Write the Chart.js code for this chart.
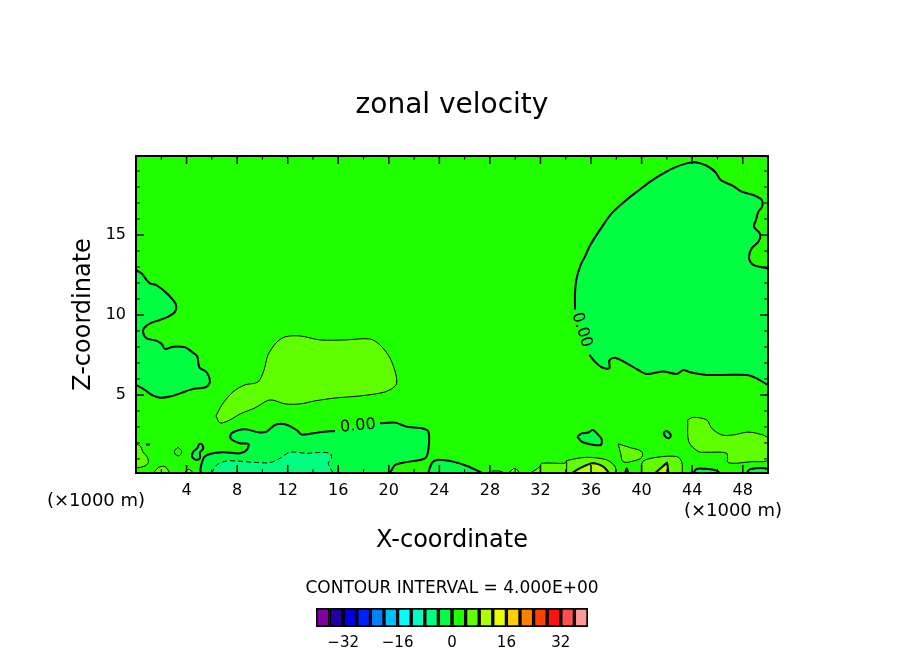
<!DOCTYPE html>
<html><head><meta charset="utf-8">
<script src="https://cdn.jsdelivr.net/npm/chart.js@4"></script>
<style>html,body{margin:0;padding:0;background:#fff;width:904px;height:654px;overflow:hidden}
#wrap{position:absolute;left:0;top:0;width:904px;height:654px}
#leg{position:absolute;left:0;top:570px;width:904px;height:84px}
canvas{display:block}</style></head>
<body>
<div id="wrap"><canvas id="main" width="904" height="654"></canvas></div>
<div id="leg"><canvas id="bar" width="904" height="84"></canvas></div>
<script>
// ---- axes ----
const xTicks=[4,8,12,16,20,24,28,32,36,40,44,48];
const xMinor=[2,6,10,14,18,22,26,30,34,38,42,46];
const zTicks=[5,10,15];
const zMinor=[1,2,3,4,6,7,8,9,11,12,13,14,16,17,18,19];
const xRange=[0,50];
const zRange=[0.12,19.94];
// ---- contours: [x (×1000 m), z (×1000 m)] ----
const westLobe=[[0,12.8],[.45,12.6],[.79,12.23],[1.11,11.98],[1.64,11.85],[2.29,11.46],[2.82,11.04],[3.16,10.63],[3.09,10.21],[2.56,9.9],[1.9,9.69],[1.11,9.48],[.63,9.17],[.58,8.85],[.84,8.54],[1.64,8.38],[2.03,8.19],[2.29,7.88],[2.95,8.02],[3.88,7.98],[4.4,7.71],[4.85,7.4],[5.01,6.73],[5.59,6.42],[5.85,5.83],[5.51,5.48],[4.54,5.38],[3.48,5.1],[2.69,4.9],[1.9,4.83],[1.24,5],[.71,5.31],[0,5.63]];
const eastLobe=[[34.73,10.35],[34.73,11.35],[34.86,12.29],[35.18,13.13],[35.52,13.65],[35.87,14.27],[36.31,14.85],[36.84,15.48],[37.63,16.35],[38.95,17.29],[39.87,17.85],[40.8,18.4],[41.72,18.85],[42.64,19.23],[43.57,19.48],[44.36,19.54],[45.15,19.33],[45.81,18.96],[46.26,18.44],[47.26,18.06],[47.92,17.71],[48.84,17.5],[49.5,17.19],[49.53,16.77],[49.24,16.46],[49.05,15.94],[48.89,15.52],[49.37,15.06],[49.24,14.58],[48.71,14.17],[48.5,13.54],[48.84,13.13],[50,12.92],[50.3,12.92],[50.3,5.63],[50,5.63],[49.1,6.04],[48.31,6.25],[46.47,6.25],[45.15,6.25],[43.83,6.42],[43.3,6.56],[42.77,6.31],[41.72,6.46],[40.4,6.31],[39.74,6.56],[38.82,6.98],[37.9,7.33],[37.45,7.15],[37.45,6.67],[36.84,6.73],[36.31,7.08],[35.87,7.5]];
const centralHigh=[[6.33,3.69],[6.8,4.38],[7.67,5.19],[8.62,5.63],[9.65,5.81],[10.13,6.56],[10.44,7.5],[11.08,8.25],[11.79,8.63],[12.97,8.69],[14.56,8.44],[16.53,8.44],[18.51,8.5],[19.3,8.13],[20.09,7.31],[20.57,6.25],[20.57,5.63],[19.7,5.19],[17.72,4.94],[15.74,4.81],[14.16,4.63],[12.97,4.44],[11.79,4.44],[10.6,4.69],[9.41,4.19],[8.23,3.81],[7.44,3.44],[6.65,3.25],[6.33,3.69]];
const lowerJet=[[19.3,3.23],[20.49,3.27],[21.41,3.02],[22.6,2.92],[23.13,2.71],[23.13,1.56],[22.86,1.04],[21.15,.77],[20.49,.62],[19.96,.1],[5.25,.1],[5.33,1.04],[5.85,1.31],[6.91,1.42],[8.23,1.35],[8.76,1.56],[8.89,1.94],[8.23,1.98],[7.49,2.29],[7.57,2.61],[8.62,2.85],[9.68,2.67],[10.34,2.71],[11,3.12],[11.79,3.17],[12.71,2.81],[13.11,2.52],[14.56,2.67],[15.74,2.75]];
const jetCore=[[5.99,.1],[6.38,.62],[7.18,.87],[7.97,.87],[9.28,.79],[10.6,.77],[11.39,1.04],[12.18,1.42],[13.5,1.35],[14.56,1.4],[15.35,1.35],[15.48,1.04],[15.21,.73],[15.61,.1]];
const peanut=[[5.2,1.94],[5.33,1.67],[5.06,1.4],[5.06,1.04],[4.75,.94],[4.43,1.15],[4.54,1.46],[4.85,1.67],[5.01,1.94],[5.2,1.94]];
const smallRing=[[3.32,1.73],[3.61,1.46],[3.35,1.19],[3.03,1.46],[3.32,1.73]];
const westEdgeHigh=[[0,1.98],[.37,1.77],[.53,1.46],[.9,1.1],[.97,.77],[.71,.56],[0,.42]];
const westDash=[[.79,1.9],[1.11,1.9]];
const bumpA=[[1.37,.1],[1.76,.46],[2.29,.52],[2.69,.1]];
const bumpB=[[3.8,.1],[4.14,.36],[4.59,.1]];
const lowerEast=[[23.1,.1],[23.42,.75],[23.81,.94],[25.08,.83],[26.19,.56],[27.45,.1]];
const islandA=[[34.92,2.4],[35.26,2.6],[35.78,2.65],[36.13,2.81],[36.58,2.5],[36.84,2.23],[36.76,1.87],[35.92,1.92],[35.26,2.08],[34.92,2.4]];
const islandB=[[41.99,2.77],[42.3,2.5],[42.12,2.29],[41.75,2.6],[41.99,2.77]];
const patchA=[[38.15,1.94],[39.08,1.71],[40,1.46],[40,1.1],[39.34,.87],[38.55,.83],[38.34,1.35],[38.15,1.94]];
const patchEast=[[43.65,3.44],[44.09,3.6],[45.15,3.44],[45.54,2.92],[46.34,2.5],[47.26,2.5],[48.31,2.67],[49.11,2.6],[50,2.29],[50,.94],[48.71,.83],[46.86,.77],[46.73,1.35],[45.15,1.42],[44.49,1.46],[43.73,2.08],[43.65,3.44]];
const floorHigh=[[31.17,.1],[31.96,.52],[32.09,.73],[33.94,.73],[34.07,.89],[35.66,1.1],[37.24,.94],[37.9,.52],[37.95,.1]];
const floorCore=[[34.47,.1],[35.13,.42],[36.13,.73],[36.97,.52],[37.45,.1]];
const floorStep=[[34.07,.89],[34.07,.1]];
const bumpC=[[29.45,.1],[29.98,.42],[30.38,.1]];
const shelf=[[28.14,.24],[28.8,.24],[29.19,.1]];
const floorWest=[[40,.1],[40.09,.83],[41.2,1.1],[42.77,1.15],[43.17,.83],[43.22,.1]];
const wedge=[[41.06,.1],[42.03,.77],[42.12,.1]];
const speck=[[38.69,.1],[38.82,.4],[38.95,.1]];
const floorLowA=[[44.09,.1],[44.36,.38],[45.02,.38],[45.94,.27],[46.2,.1]];
const floorLowB=[[48.31,.1],[48.58,.36],[50,.39],[50,.1]];
// ---- labels ----
const contourLabelText=["0.00","0.00"];
const contourLabelX=[17.56,35.26];
const contourLabelZ=[3.06,9.06];
const titleText="zonal velocity";
const xTitle="X-coordinate";
const zTitle="Z-coordinate";
const unitText="(×1000 m)";
const intervalText="CONTOUR INTERVAL = 4.000E+00";
// ---- colour bar ----
const barLevels=[-38,-34,-30,-26,-22,-18,-14,-10,-6,-2,2,6,10,14,18,22,26,30,34,38];
const barColors=["#8000a0","#2000a0","#0000e0","#0020ff","#0080ff","#00c0ff","#00ffff","#00ffc0","#00ff80","#00ff40","#20ff00","#60ff00","#b0ff00","#e8ff00","#ffd000","#ff8000","#ff4000","#ff1010","#ff5050","#ff9999"];
const barTicks=[-32,-16,0,16,32];

const C0="#20ff00",CN="#00ff40",CNN="#00ff80",CP="#60ff00",CPP="#b0ff00";
const F="'DejaVu Sans'";
function ds(data,fill,w,dash,tension){return {data:data.map(p=>({x:p[0],y:p[1]})),showLine:true,pointRadius:0,pointHoverRadius:0,tension:tension||.3,
  backgroundColor:fill||"transparent",fill:fill?"shape":false,borderColor:"#000",borderWidth:w,borderDash:dash||[],borderCapStyle:"butt",borderJoinStyle:"round"};}
const datasets=[
 ds(westLobe,CN,2),ds(eastLobe,CN,2),ds(centralHigh,CP,1),ds(lowerJet,CN,2),ds(jetCore,CNN,1,[5,3]),
 ds(peanut,CN,2),ds(smallRing,C0,1,null,.5),ds(westEdgeHigh,CP,1),ds(westDash,null,2),ds(bumpA,CP,1),ds(bumpB,CP,1),
 ds(lowerEast,CN,2),ds(islandA,CN,2),ds(islandB,CN,2,null,.5),ds(patchA,CP,1,null,.4),ds(patchEast,CP,1),
 ds(floorHigh,CP,1),ds(floorCore,CPP,2),ds(floorStep,null,1),ds(bumpC,CP,1),ds(shelf,null,1),
 ds(floorWest,CP,1),ds(wedge,CPP,2,null,.01),ds(speck,CN,2),ds(floorLowA,CN,2),ds(floorLowB,CN,2)
].map((d,i)=>Object.assign(d,{order:-i}));

const framePlugin={id:"frame",
 beforeDatasetsDraw(c){const a=c.chartArea,g=c.ctx;g.save();g.fillStyle=C0;g.fillRect(a.left,a.top,a.width,a.height);g.restore();},
 afterDatasetsDraw(c){const a=c.chartArea,g=c.ctx,X=c.scales.x,Y=c.scales.y;g.save();g.strokeStyle="#000";
  const tx=(v,l,w)=>{const p=X.getPixelForValue(v);g.lineWidth=w;g.beginPath();g.moveTo(p,a.top);g.lineTo(p,a.top+l);g.moveTo(p,a.bottom);g.lineTo(p,a.bottom-l);g.stroke();};
  const ty=(v,l,w)=>{const p=Y.getPixelForValue(v);g.lineWidth=w;g.beginPath();g.moveTo(a.left,p);g.lineTo(a.left+l,p);g.moveTo(a.right,p);g.lineTo(a.right-l,p);g.stroke();};
  xMinor.forEach(v=>tx(v,4,1));xTicks.forEach(v=>tx(v,8,1.5));zMinor.forEach(v=>ty(v,4,1));zTicks.forEach(v=>ty(v,8,1.5));
  g.lineWidth=2;g.strokeRect(a.left,a.top,a.width,a.height);
  g.fillStyle="#000";g.textAlign="center";g.textBaseline="middle";
  g.font="16px "+F;
  const ang=[-5,72];
  contourLabelText.forEach((t,i)=>{g.save();g.translate(X.getPixelForValue(contourLabelX[i]),Y.getPixelForValue(contourLabelZ[i]));g.rotate(ang[i]*Math.PI/180);g.fillText(t,0,0);g.restore();});
  g.font="18px "+F;
  g.fillText(unitText,96,501);g.fillText(unitText,733,511);
  g.restore();}
};
new Chart(document.getElementById("main"),{type:"scatter",data:{datasets},plugins:[framePlugin],
 options:{responsive:false,animation:false,events:[],layout:{padding:0},
  plugins:{legend:{display:false},tooltip:{enabled:false},
   title:{display:true,text:titleText,color:"#000",font:{family:F,size:28,weight:"normal",lineHeight:1.2},padding:{top:89.2,bottom:33.2}}},
  scales:{
   x:{type:"linear",min:xRange[0],max:xRange[1],grid:{display:false,drawTicks:false},border:{display:false},
    afterBuildTicks:s=>{s.ticks=xTicks.map(v=>({value:v}));},afterFit:s=>{s.height=181;},
    ticks:{color:"#000",font:{family:F,size:16},padding:8,maxRotation:0,autoSkip:false},
    title:{display:true,text:xTitle,color:"#000",font:{family:F,size:24,weight:"normal"},padding:{top:98.6,bottom:98.6}}},
   y:{type:"linear",min:zRange[0],max:zRange[1],grid:{display:false,drawTicks:false},border:{display:false},
    afterBuildTicks:s=>{s.ticks=zTicks.map(v=>({value:v}));},afterFit:s=>{s.width=136;},
    ticks:{color:"#000",font:{family:F,size:16},padding:10},
    title:{display:true,text:zTitle,color:"#000",font:{family:F,size:24,weight:"normal"},padding:{top:69.6,bottom:69.6}}},
   y2:{type:"linear",position:"right",min:0,max:1,grid:{display:false,drawTicks:false},border:{display:false},
    ticks:{display:false},afterFit:s=>{s.width=136;}}
  }}});
new Chart(document.getElementById("bar"),{type:"bar",data:{labels:barLevels,datasets:[{data:barLevels.map(()=>1),backgroundColor:barColors,borderColor:"#000",borderWidth:2,borderSkipped:false,barPercentage:1,categoryPercentage:1}]},
 options:{responsive:false,animation:false,events:[],layout:{padding:0},
  plugins:{legend:{display:false},tooltip:{enabled:false},
   title:{display:true,text:intervalText,color:"#000",font:{family:F,size:17,weight:"normal",lineHeight:1.2},padding:{top:8.8,bottom:8.8}}},
  scales:{
   x:{type:"category",display:false,grid:{display:false}},
   x2:{type:"linear",position:"bottom",offset:false,min:-40,max:40,grid:{display:false,drawTicks:false,offset:false},border:{display:false},
    afterBuildTicks:s=>{s.ticks=barTicks.map(v=>({value:v}));},afterFit:s=>{s.height=27;},
    ticks:{color:"#000",font:{family:F,size:15},padding:7,maxRotation:0,autoSkip:false,callback:v=>String(v).replace("-","\u2212")}},
   y:{min:0,max:1,position:"left",grid:{display:false,drawTicks:false},border:{display:false},ticks:{display:false},afterFit:s=>{s.width=316;}},
   y2:{type:"linear",min:0,max:1,position:"right",grid:{display:false,drawTicks:false},border:{display:false},ticks:{display:false},afterFit:s=>{s.width=316;}}
  }}});
</script></body></html>
